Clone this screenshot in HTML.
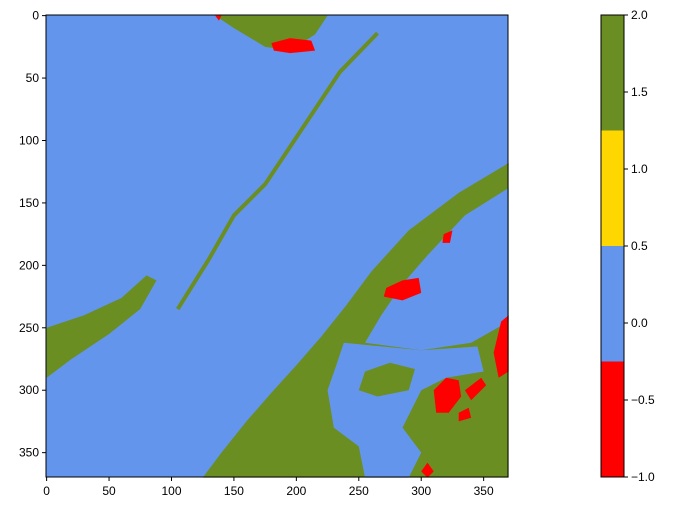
<!DOCTYPE html>
<html><head><meta charset="utf-8">
<style>
body{margin:0;background:#fff;width:677px;height:511px;overflow:hidden;font-family:"Liberation Sans",sans-serif;}
text{font-family:"Liberation Sans",sans-serif;font-size:12px;fill:#000;}
</style></head>
<body>
<svg id="chart" width="677" height="511" xmlns="http://www.w3.org/2000/svg">
<g id="plot"></g>
<g id="axes"></g>
<g id="cbar"></g>
</svg>
<script>
const xTicks=[0,50,100,150,200,250,300,350];
const yTicks=[0,50,100,150,200,250,300,350];
const cbTicks=[-1.0,-0.5,0.0,0.5,1.0,1.5,2.0];
const cbLevels=[-1,-0.25,0.5,1.25,2];
const cbColors=["#ff0000","#6495ed","#ffd700","#6b8e23"];
const bandGreen=[[125,370],[140,350],[160,325],[180,302],[200,280],[220,257],[240,232],[260,205],[290,172],[330,142],[370,118],[370,370]];
const bayBlue=[[370,138],[335,160],[305,192],[285,215],[268,240],[255,262],[300,268],[340,262],[370,245]];
const innerBlue=[[238,262],[300,268],[345,265],[350,285],[320,290],[300,300],[285,330],[300,350],[290,370],[255,370],[250,345],[230,330],[225,300],[232,280]];
const greenIsles=[[255,285],[275,278],[295,283],[290,300],[265,305],[250,300]];
const topGreen=[[135,0],[225,0],[215,15],[195,28],[175,25],[150,10]];
const leftGreen=[[0,250],[30,240],[60,226],[80,208],[88,212],[75,235],[50,255],[20,275],[0,290]];
const strip=[[265,14],[235,45],[205,90],[175,135],[150,160],[130,195],[105,235]];
const redBlobs=[
 [[272,218],[285,212],[298,210],[300,222],[285,228],[270,225]],
 [[180,22],[195,18],[212,20],[215,28],[195,30],[182,28]],
 [[364,245],[370,240],[370,285],[362,290],[358,270]],
 [[310,300],[320,290],[330,292],[332,305],[322,318],[312,318]],
 [[335,300],[348,290],[352,296],[340,308]],
 [[330,318],[338,314],[340,322],[330,325]],
 [[318,175],[325,172],[323,182],[317,182]],
 [[300,365],[305,358],[310,365],[305,370]],
 [[135,0],[140,0],[138,4]]
];
const X0=46,X1=508,Y0=15,Y1=477;
const x=v=>X0+(v+0.5)/370*(X1-X0);
const y=v=>Y0+(v+0.5)/370*(Y1-Y0);
const NS="http://www.w3.org/2000/svg";
const plot=document.getElementById('plot'),axes=document.getElementById('axes'),cb=document.getElementById('cbar');
function mk(tag,attrs,parent){const e=document.createElementNS(NS,tag);for(const k in attrs)e.setAttribute(k,attrs[k]);parent.appendChild(e);return e;}
const pts=p=>p.map(q=>x(q[0])+','+y(q[1])).join(' ');
let bg=mk('rect',{x:X0,y:Y0,width:X1-X0,height:Y1-Y0,fill:'#6495ed'},plot);


function poly(p,fill,name){const e=mk('polygon',{points:pts(p),fill:fill},plot);

}
poly(bandGreen,'#6b8e23','land-band');
poly(bayBlue,'#6495ed','bay-water');
poly(innerBlue,'#6495ed','inner-water');
poly(greenIsles,'#6b8e23','islands');
poly(topGreen,'#6b8e23','top-land');
poly(leftGreen,'#6b8e23','left-peninsula');
let sl=mk('polyline',{points:pts(strip),fill:'none',stroke:'#6b8e23','stroke-width':4},plot);


redBlobs.forEach(b=>poly(b,'#ff0000','red-patch'));
let fr=mk('rect',{x:X0,y:Y0,width:X1-X0,height:Y1-Y0,fill:'none',stroke:'#000','stroke-width':1},axes);


xTicks.forEach(t=>{mk('line',{x1:x(t),x2:x(t),y1:Y1,y2:Y1+4,stroke:'#000'},axes);
 const tx=mk('text',{x:x(t),y:Y1+18,'text-anchor':'middle'},axes);tx.textContent=t;
 
 });
yTicks.forEach(t=>{mk('line',{x1:X0-4,x2:X0,y1:y(t),y2:y(t),stroke:'#000'},axes);
 const tx=mk('text',{x:X0-7,y:y(t)+4,'text-anchor':'end'},axes);tx.textContent=t;
 
 });
const C0=601,C1=624,CT=15,CB=477;
const cy=v=>CB-(v+1)/3*(CB-CT);
cbColors.forEach((c,i)=>{const r=mk('rect',{x:C0,y:cy(cbLevels[i+1]),width:C1-C0,height:cy(cbLevels[i])-cy(cbLevels[i+1]),fill:c},cb);
 
 });
mk('rect',{x:C0,y:CT,width:C1-C0,height:CB-CT,fill:'none',stroke:'#000'},cb);
cbTicks.forEach(t=>{mk('line',{x1:C1,x2:C1+4,y1:cy(t),y2:cy(t),stroke:'#000'},cb);
 const tx=mk('text',{x:C1+7,y:cy(t)+4},cb);tx.textContent=t.toFixed(1).replace('-','−');
 
 });
</script>
</body></html>
